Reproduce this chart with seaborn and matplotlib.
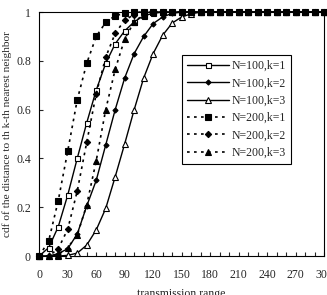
import numpy as np
import pandas as pd
import seaborn as sns
from matplotlib import pyplot as plt
from matplotlib.ticker import MultipleLocator

# transmission range, sampled every 10
trans_range = [0, 10, 20, 30, 40, 50, 60, 70, 80, 90, 100, 110, 120, 130, 140, 150,
               160, 170, 180, 190, 200, 210, 220, 230, 240, 250, 260, 270, 280, 290, 300]

n100_k1 = [0, 0.035, 0.12, 0.25, 0.40, 0.546, 0.68, 0.79, 0.87, 0.923, 0.96, 0.985, 0.995, 1, 1, 1,
           1, 1, 1, 1, 1, 1, 1, 1, 1, 1, 1, 1, 1, 1, 1]
n100_k2 = [0, 0, 0.01, 0.03, 0.09, 0.205, 0.31, 0.455, 0.60, 0.73, 0.83, 0.90, 0.953, 0.98, 0.995, 1,
           1, 1, 1, 1, 1, 1, 1, 1, 1, 1, 1, 1, 1, 1, 1]
n100_k3 = [0, 0, 0, 0.003, 0.012, 0.045, 0.107, 0.195, 0.325, 0.46, 0.60, 0.73, 0.83, 0.905, 0.955, 0.98,
           0.993, 1, 1, 1, 1, 1, 1, 1, 1, 1, 1, 1, 1, 1, 1]
n200_k1 = [0, 0.063, 0.227, 0.43, 0.64, 0.79, 0.90, 0.958, 0.985, 0.995, 1, 1, 1, 1, 1, 1,
           1, 1, 1, 1, 1, 1, 1, 1, 1, 1, 1, 1, 1, 1, 1]
n200_k2 = [0, 0, 0.03, 0.11, 0.266, 0.466, 0.665, 0.815, 0.913, 0.967, 0.99, 1, 1, 1, 1, 1,
           1, 1, 1, 1, 1, 1, 1, 1, 1, 1, 1, 1, 1, 1, 1]
n200_k3 = [0, 0, 0.005, 0.035, 0.085, 0.21, 0.39, 0.60, 0.765, 0.89, 0.96, 0.99, 1, 1, 1, 1,
           1, 1, 1, 1, 1, 1, 1, 1, 1, 1, 1, 1, 1, 1, 1]

labels = ["N=100,k=1", "N=100,k=2", "N=100,k=3", "N=200,k=1", "N=200,k=2", "N=200,k=3"]
series = [n100_k1, n100_k2, n100_k3, n200_k1, n200_k2, n200_k3]

sns.set_style("ticks")
plt.rcParams['font.family'] = ['Liberation Serif', 'DejaVu Serif']
plt.rcParams['font.size'] = 8.5

fig = plt.figure(figsize=(3.27, 2.95), dpi=100)
ax = fig.add_axes([0.120, 0.132, 0.871, 0.827])

dotted = (0, (1.6, 2.6))
styles = [
    dict(linestyle="-", marker="s", markerfacecolor="white", markersize=3.6),
    dict(linestyle="-", marker="D", markerfacecolor="black", markersize=2.6),
    dict(linestyle="-", marker="^", markerfacecolor="white", markersize=3.8),
    dict(linestyle=dotted, marker="s", markerfacecolor="black", markersize=4.2),
    dict(linestyle=dotted, marker="D", markerfacecolor="black", markersize=3.2),
    dict(linestyle=dotted, marker="^", markerfacecolor="black", markersize=4.2),
]

for lab, vals, st in zip(labels, series, styles):
    df = pd.DataFrame({"range": trans_range, "cdf": vals})
    lw = 1.0 if st["linestyle"] == "-" else 1.2
    sns.lineplot(x="range", y="cdf", data=df, ax=ax, color="black", linewidth=lw,
                 markeredgecolor="black", markeredgewidth=0.8, label=lab,
                 clip_on=False, zorder=3, **st)

ax.set_xlim(0, 300)
ax.set_ylim(0, 1)
ax.xaxis.set_major_locator(MultipleLocator(30))
ax.xaxis.set_minor_locator(MultipleLocator(10))
ax.set_yticks([0, 0.2, 0.4, 0.6, 0.8, 1.0])
ax.set_yticklabels(["0", "0.2", "0.4", "0.6", "0.8", "1"])
ax.tick_params(axis="both", which="both", direction="in", length=3, width=0.8,
               labelsize=8.5)
ax.tick_params(axis="x", pad=9)
ax.tick_params(axis="y", pad=6)
for sp in ax.spines.values():
    sp.set_linewidth(0.8)
    sp.set_color("black")
    sp.set_visible(True)

ax.set_xlabel("transmission range", fontsize=8.5, labelpad=5)
ax.set_ylabel("cdf of the distance to th k-th nearest neighbor", fontsize=8.2, labelpad=3)

leg = ax.legend(loc="upper left", bbox_to_anchor=(0.5, 0.825), borderaxespad=0,
                frameon=True, fancybox=False, edgecolor="black", framealpha=1,
                fontsize=8.5, handlelength=3.6, handletextpad=0.2, labelspacing=0.45,
                borderpad=0.45)
leg.get_frame().set_linewidth(0.8)

fig.savefig("out.png", dpi=100)
